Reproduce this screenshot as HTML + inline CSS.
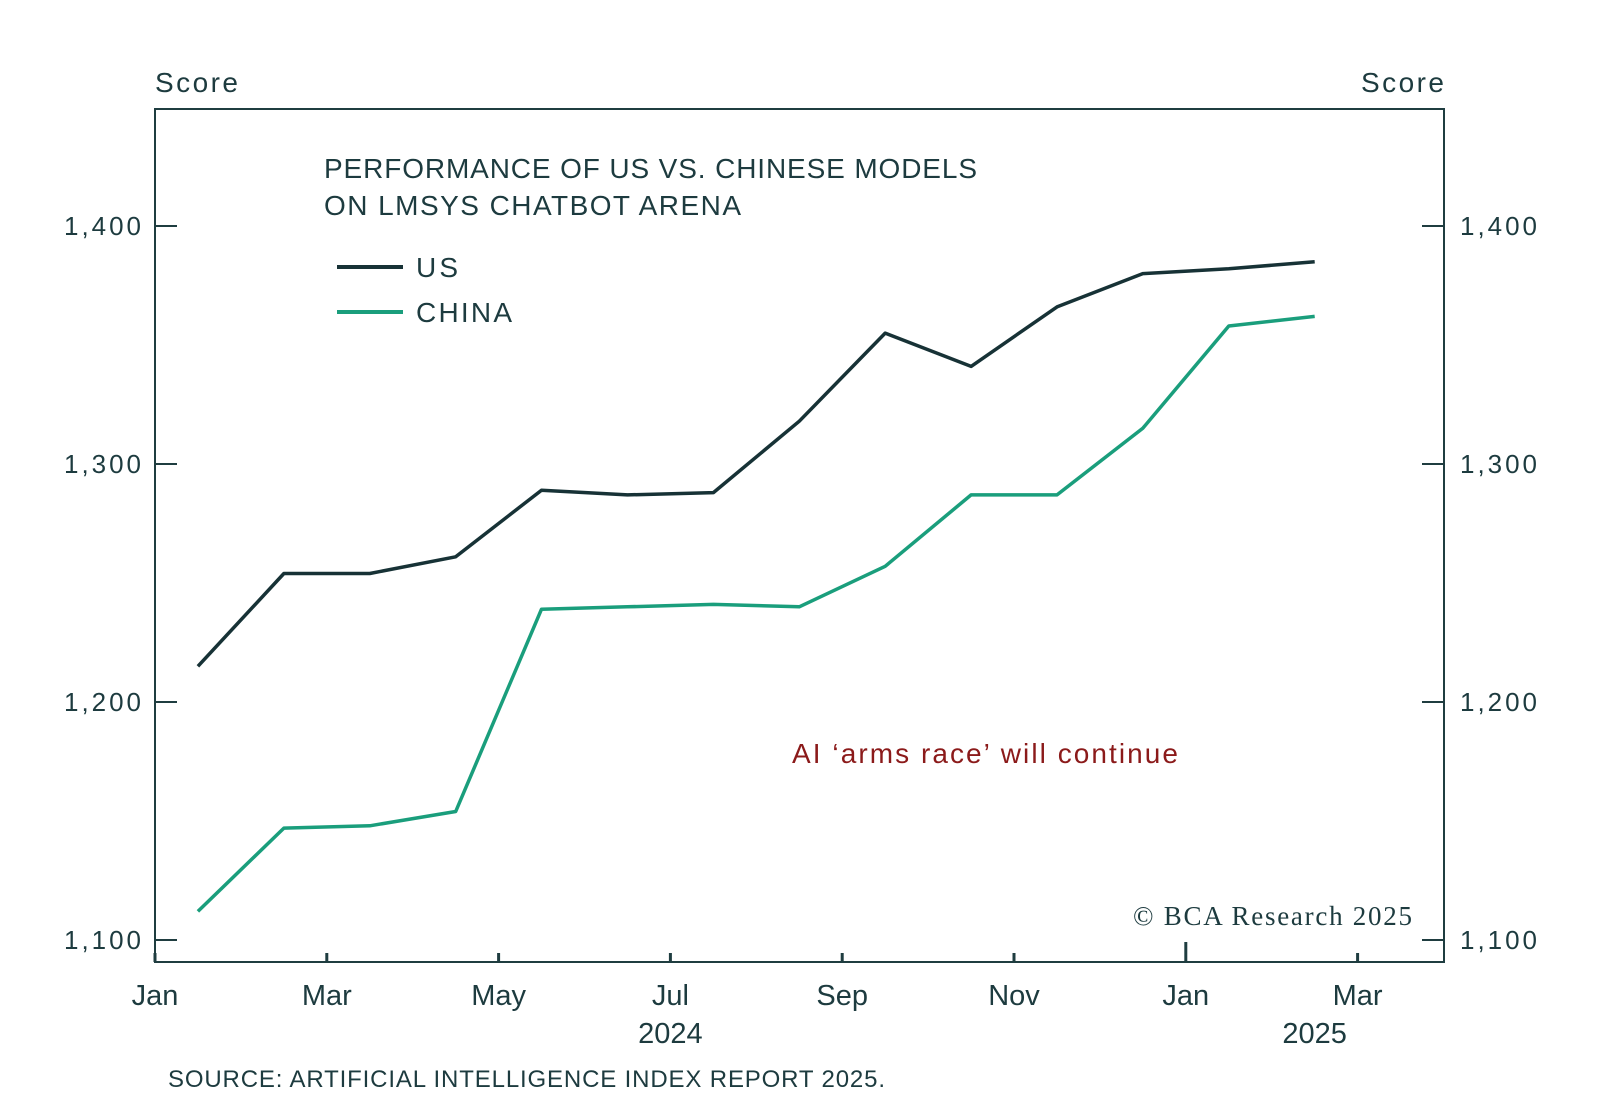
<!DOCTYPE html>
<html><head><meta charset="utf-8"><style>
body{margin:0;background:#fff;width:1600px;height:1107px;overflow:hidden}
svg text{font-family:"Liberation Sans",sans-serif;fill:#1d3b3f}
</style></head><body>
<svg width="1600" height="1107" viewBox="0 0 1600 1107">
<g id="axes"></g><g id="series"></g>
<text x="155" y="92" font-size="28" textLength="83">Score</text>
<text x="1444" y="92" font-size="28" text-anchor="end" textLength="83">Score</text>
<text x="324" y="178" font-size="28" textLength="653">PERFORMANCE OF US VS. CHINESE MODELS</text>
<text x="324" y="215" font-size="28" textLength="417">ON LMSYS CHATBOT ARENA</text>
<line x1="337" y1="267" x2="403" y2="267" stroke="#173236" stroke-width="4"/>
<text x="416" y="277" font-size="28" textLength="42">US</text>
<line x1="337" y1="312" x2="403" y2="312" stroke="#1a9e7c" stroke-width="4"/>
<text x="416" y="322" font-size="28" textLength="96">CHINA</text>
<text x="792" y="763" font-size="28" textLength="386" style="fill:#8b1a1a">AI ‘arms race’ will continue</text>
<text x="1133" y="925" font-size="27" textLength="279" style="font-family:'Liberation Serif',serif;fill:#1d3b3f">© BCA Research 2025</text>
<text x="168" y="1087" font-size="24" textLength="717">SOURCE: ARTIFICIAL INTELLIGENCE INDEX REPORT 2025.</text>
</svg>
<script>
const yTicks=[1100,1200,1300,1400];
const yTickLabels=["1,100","1,200","1,300","1,400"];
const xTickMonths=[0,2,4,6,8,10,12,14];
const xTickLabels=["Jan","Mar","May","Jul","Sep","Nov","Jan","Mar"];
const pointMonths=[0.5,1.5,2.5,3.5,4.5,5.5,6.5,7.5,8.5,9.5,10.5,11.5,12.5,13.5];
const usValues=[1215,1254,1254,1261,1289,1287,1288,1318,1355,1341,1366,1380,1382,1385];
const chinaValues=[1112,1147,1148,1154,1239,1240,1241,1240,1257,1287,1287,1315,1358,1362];
const L=155,R=1444,T=109,B=962;
const X=m=>L+m*85.9;
const Y=v=>940-(v-1100)*2.38;
const NS="http://www.w3.org/2000/svg";
const ax=document.getElementById('axes'),se=document.getElementById('series');
function mk(tag,at,parent){const e=document.createElementNS(NS,tag);for(const k in at)e.setAttribute(k,at[k]);parent.appendChild(e);return e;}
const frame=mk('rect',{x:L,y:T,width:R-L,height:B-T,fill:'none',stroke:'#1f3d40','stroke-width':2},ax);


yTicks.forEach((v,i)=>{
 const y=Y(v);
 const t1=mk('line',{x1:L,x2:L+22,y1:y,y2:y,stroke:'#1f3d40','stroke-width':2},ax);
 
 
 const t2=mk('line',{x1:R-22,x2:R,y1:y,y2:y,stroke:'#1f3d40','stroke-width':2},ax);
 
 
 const a=mk('text',{x:L-14,y:y+9,'font-size':26,'text-anchor':'end',textLength:77},ax);a.textContent=yTickLabels[i];
 
 
 const b=mk('text',{x:R+16,y:y+9,'font-size':26,textLength:77},ax);b.textContent=yTickLabels[i];
 
 
});
xTickMonths.forEach((m,i)=>{
 const x=X(m);
 const len=m===12?20:9;
 const t=mk('line',{x1:x,x2:x,y1:B,y2:B-len,stroke:'#1f3d40','stroke-width':3},ax);
 
 
 const l=mk('text',{x:x,y:1005,'font-size':29,'text-anchor':'middle'},ax);l.textContent=xTickLabels[i];
 
 
});
const y1=mk('text',{x:X(6),y:1043,'font-size':29,'text-anchor':'middle'},ax);y1.textContent='2024';


const y2=mk('text',{x:X(13.5),y:1043,'font-size':29,'text-anchor':'middle'},ax);y2.textContent='2025';


function line(vals,color,name){
 const d=vals.map((v,i)=>(i?'L':'M')+X(pointMonths[i]).toFixed(1)+','+Y(v).toFixed(1)).join(' ');
 const p=mk('path',{d:d,fill:'none',stroke:color,'stroke-width':3.5,'stroke-linejoin':'round'},se);
 
 
}
line(usValues,'#173236','us-line');
line(chinaValues,'#1a9e7c','china-line');
</script>
</body></html>
